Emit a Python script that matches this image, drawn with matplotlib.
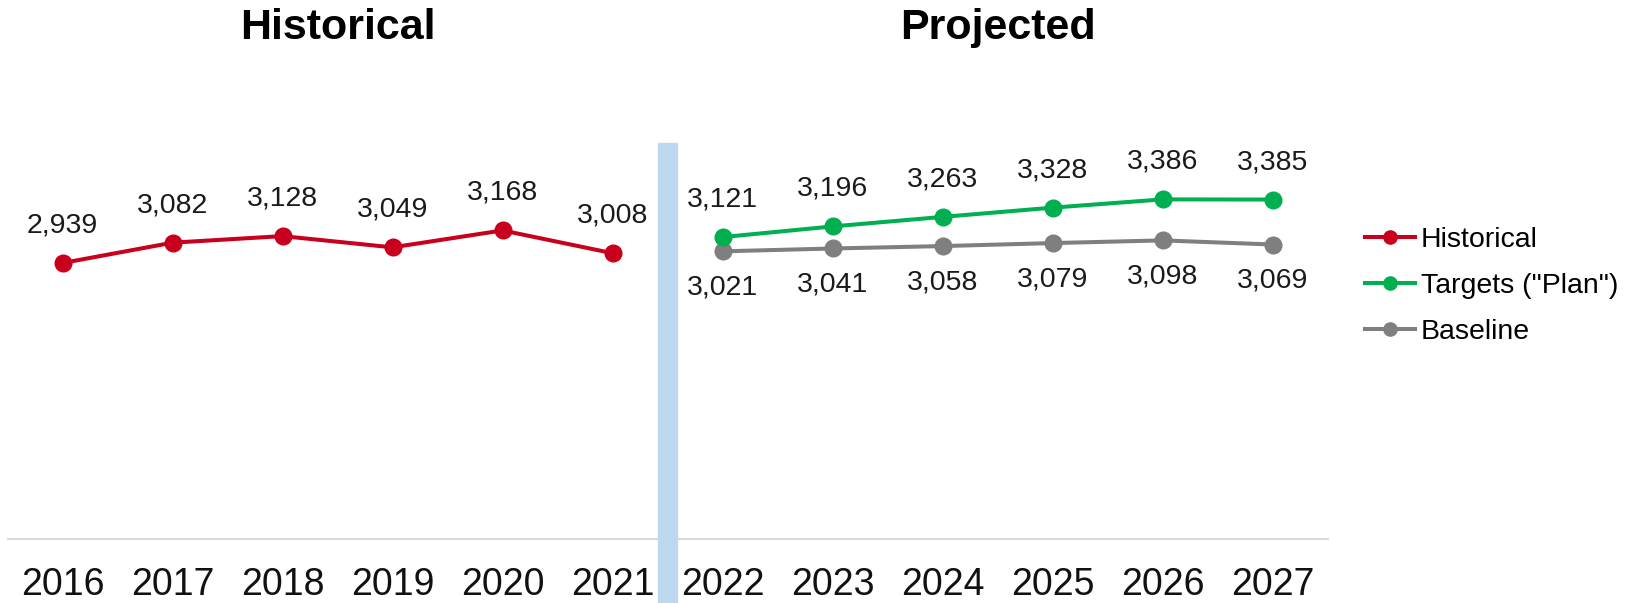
import matplotlib
matplotlib.use('Agg')
import matplotlib.pyplot as plt
from matplotlib.lines import Line2D
from matplotlib.patches import Rectangle
import matplotlib.transforms as mtransforms

plt.rcParams['font.family'] = ['Liberation Sans', 'DejaVu Sans']

years = [2016, 2017, 2018, 2019, 2020, 2021, 2022, 2023, 2024, 2025, 2026, 2027]
hist_years = [2016, 2017, 2018, 2019, 2020, 2021]
proj_years = [2022, 2023, 2024, 2025, 2026, 2027]
historical = [2939, 3082, 3128, 3049, 3168, 3008]
targets = [3121, 3196, 3263, 3328, 3386, 3385]
baseline = [3021, 3041, 3058, 3079, 3098, 3069]

RED = '#C8001E'
GREEN = '#00B050'
GREY = '#7F7F7F'
BAR = '#BDD7EE'

W, H = 1634, 603
fig = plt.figure(figsize=(W / 100, H / 100), dpi=100)
ax = fig.add_axes([7.5 / W, 1 - 539 / H, 1320 / W, (539 - 112) / H])

lw = 2.9
ms = 12
ax.plot(hist_years, historical, color=RED, lw=lw, marker='o', ms=ms, zorder=3)
ax.plot(proj_years, targets, color=GREEN, lw=lw, marker='o', ms=ms, zorder=3)
ax.plot(proj_years, baseline, color=GREY, lw=lw, marker='o', ms=ms, zorder=2)

lab_fs = 20.5
for x, v in zip(hist_years, historical):
    ax.annotate(f'{v:,}', (x, v), xytext=(0, 27), textcoords='offset points',
                ha='center', va='center', fontsize=lab_fs, color='#1a1a1a')
for x, v in zip(proj_years, targets):
    ax.annotate(f'{v:,}', (x, v), xytext=(0, 27), textcoords='offset points',
                ha='center', va='center', fontsize=lab_fs, color='#1a1a1a')
for x, v in zip(proj_years, baseline):
    ax.annotate(f'{v:,}', (x, v), xytext=(0, -26), textcoords='offset points',
                ha='center', va='center', fontsize=lab_fs, color='#1a1a1a')

ax.set_xlim(2015.5, 2027.5)
ax.set_ylim(1000, 4000)
ax.set_xticks(years)
ax.set_xticklabels([str(y) for y in years])
ax.tick_params(axis='x', length=0, pad=20, labelsize=27, colors='#111111')
ax.set_yticks([])
for s in ['top', 'left', 'right']:
    ax.spines[s].set_visible(False)
ax.spines['bottom'].set_color('#D9D9D9')
ax.spines['bottom'].set_linewidth(1.5)
ax.patch.set_alpha(0)

# divider bar
trans = mtransforms.blended_transform_factory(ax.transData, fig.transFigure)
bar = Rectangle((2021.5 - 0.082, 0), 0.164, 1 - 143 / H, transform=trans,
                color=BAR, clip_on=False, zorder=1)
fig.patches.append(bar)

# titles
fig.text(337.5 / W, 1 - 28 / H, 'Historical', ha='center', va='center',
         fontsize=31, fontweight='bold')
fig.text(997.5 / W, 1 - 28 / H, 'Projected', ha='center', va='center',
         fontsize=31, fontweight='bold')

handles = [
    Line2D([], [], color=RED, lw=lw, marker='o', ms=9.5),
    Line2D([], [], color=GREEN, lw=lw, marker='o', ms=9.5),
    Line2D([], [], color=GREY, lw=lw, marker='o', ms=9.5),
]
fig.legend(handles, ['Historical', 'Targets ("Plan")', 'Baseline'],
           loc='center left', bbox_to_anchor=(1365 / W, 1 - 286 / H),
           frameon=False, fontsize=20.5, handlelength=1.75, handletextpad=0.2,
           borderpad=0, borderaxespad=0, labelspacing=0.7)

fig.savefig('out.png', dpi=100)
